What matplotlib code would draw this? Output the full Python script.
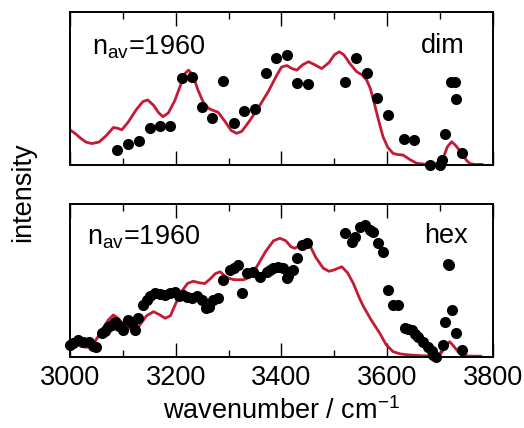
import matplotlib
matplotlib.use('Agg')
import matplotlib.pyplot as plt
from matplotlib.ticker import MultipleLocator

plt.rcParams['font.family'] = ['Liberation Sans', 'DejaVu Sans']
plt.rcParams['mathtext.fontset'] = 'custom'
plt.rcParams['mathtext.rm'] = 'Liberation Sans'
plt.rcParams['mathtext.it'] = 'Liberation Sans:italic'

# dimer: measured points and simulated spectrum
dim_pts_x = [3088, 3110, 3130, 3151, 3170, 3190, 3211, 3230, 3249, 3268,
             3290, 3310, 3330, 3350, 3370, 3390, 3410, 3430, 3450, 3520,
             3540, 3561, 3581, 3601, 3632, 3650, 3681, 3700, 3703, 3709,
             3720, 3728, 3731, 3741]
dim_pts_y = [0.10, 0.14, 0.16, 0.24, 0.255, 0.257, 0.567, 0.577, 0.377, 0.31,
             0.55, 0.277, 0.355, 0.364, 0.60, 0.70, 0.72, 0.534, 0.53, 0.545,
             0.70, 0.60, 0.436, 0.327, 0.17, 0.163, 0.0, 0.0, 0.03, 0.20,
             0.545, 0.545, 0.43, 0.076]

dim_sim_x = [3000, 3010, 3020, 3030, 3041, 3055, 3068, 3082, 3090, 3098,
             3110, 3125, 3138, 3147, 3158, 3168, 3176, 3186, 3198, 3210,
             3218, 3224, 3232, 3242, 3252, 3262, 3272, 3280, 3292, 3305,
             3315, 3325, 3340, 3359, 3375, 3390, 3400, 3410, 3420, 3429,
             3440, 3451, 3463, 3476, 3490, 3500, 3509, 3518, 3530, 3542,
             3552, 3561, 3568, 3574, 3583, 3592, 3601, 3611, 3620, 3630,
             3643, 3656, 3675, 3693, 3705, 3714, 3722, 3730, 3741, 3750,
             3756, 3765, 3780]
dim_sim_y = [0.23, 0.205, 0.175, 0.15, 0.14, 0.15, 0.19, 0.245, 0.24, 0.23,
             0.28, 0.36, 0.415, 0.425, 0.39, 0.34, 0.316, 0.34, 0.42, 0.53,
             0.60, 0.62, 0.59, 0.49, 0.41, 0.37, 0.355, 0.345, 0.29, 0.225,
             0.207, 0.22, 0.29, 0.39, 0.48, 0.58, 0.64, 0.65, 0.63, 0.62,
             0.655, 0.675, 0.655, 0.63, 0.67, 0.72, 0.74, 0.72, 0.66, 0.61,
             0.59, 0.556, 0.50, 0.425, 0.30, 0.185, 0.115, 0.076, 0.068, 0.065,
             0.035, 0.011, 0.004, 0.006, 0.04, 0.12, 0.152, 0.125, 0.076, 0.03,
             0.01, 0.004, 0.004]

# hexamer
hex_pts_x = [3000, 3005, 3016, 3025, 3035, 3044, 3050, 3060, 3066, 3072,
             3080, 3085, 3092, 3101, 3110, 3118, 3123, 3129, 3139, 3145,
             3152, 3161, 3170, 3180, 3190, 3199, 3207, 3214, 3222, 3230,
             3240, 3249, 3258, 3262, 3271, 3280, 3290, 3302, 3310, 3318,
             3325, 3334, 3347, 3359, 3372, 3378, 3384, 3394, 3403, 3410,
             3413, 3422, 3429, 3438, 3448, 3520, 3533, 3539, 3548, 3558,
             3567, 3573, 3583, 3592, 3602, 3611, 3621, 3633, 3640, 3646,
             3652, 3659, 3668, 3678, 3685, 3687, 3693, 3706, 3709, 3715,
             3717, 3722, 3731, 3741]
hex_pts_y = [0.08, 0.09, 0.11, 0.10, 0.10, 0.07, 0.063, 0.155, 0.17, 0.198,
             0.21, 0.23, 0.20, 0.176, 0.24, 0.22, 0.176, 0.253, 0.34, 0.37,
             0.40, 0.416, 0.41, 0.405, 0.42, 0.427, 0.40, 0.405, 0.39, 0.383,
             0.40, 0.372, 0.318, 0.33, 0.372, 0.383, 0.503, 0.57, 0.58, 0.60,
             0.416, 0.547, 0.557, 0.525, 0.557, 0.57, 0.58, 0.59, 0.58, 0.514,
             0.53, 0.57, 0.645, 0.73, 0.743, 0.81, 0.754, 0.786, 0.85, 0.863,
             0.83, 0.82, 0.743, 0.688, 0.438, 0.34, 0.34, 0.187, 0.18, 0.176,
             0.15, 0.133, 0.10, 0.067, 0.04, 0.013, 0.0, 0.078, 0.23, 0.61,
             0.60, 0.307, 0.155, 0.046]

hex_sim_x = [3000, 3010, 3020, 3032, 3045, 3060, 3072, 3082, 3092, 3105,
             3118, 3130, 3145, 3158, 3170, 3180, 3190, 3200, 3211, 3222,
             3233, 3245, 3255, 3265, 3275, 3284, 3296, 3310, 3328, 3340,
             3355, 3370, 3385, 3397, 3408, 3418, 3425, 3435, 3444, 3455,
             3465, 3479, 3490, 3500, 3514, 3525, 3536, 3548, 3555, 3570,
             3586, 3598, 3611, 3625, 3643, 3665, 3693, 3703, 3712, 3718,
             3726, 3734, 3741, 3755, 3778]
hex_sim_y = [0.10, 0.09, 0.07, 0.063, 0.09, 0.17, 0.24, 0.275, 0.25, 0.20,
             0.178, 0.20, 0.27, 0.296, 0.275, 0.253, 0.27, 0.35, 0.427, 0.48,
             0.495, 0.485, 0.48, 0.51, 0.545, 0.557, 0.52, 0.505, 0.505, 0.52,
             0.60, 0.69, 0.76, 0.776, 0.76, 0.72, 0.71, 0.73, 0.743, 0.72,
             0.65, 0.58, 0.56, 0.57, 0.59, 0.55, 0.48, 0.38, 0.33, 0.24,
             0.155, 0.08, 0.035, 0.02, 0.013, 0.008, 0.006, 0.03, 0.08, 0.10,
             0.07, 0.035, 0.013, 0.006, 0.005]

panels = [
    (dim_pts_x, dim_pts_y, dim_sim_x, dim_sim_y, "dim"),
    (hex_pts_x, hex_pts_y, hex_sim_x, hex_sim_y, "hex"),
]
nav_label = r"n$_{\mathrm{av}}$=1960"

red = "#c41a35"
fs = 19.5

fig = plt.figure(figsize=(5.24, 4.28), dpi=100)
ax_top = fig.add_axes([0.1336, 0.6145, 0.8072, 0.3575])
ax_bot = fig.add_axes([0.1336, 0.1659, 0.8072, 0.3575])

for ax, (px, py, sx, sy, tag) in zip([ax_top, ax_bot], panels):
    ax.plot(sx, sy, color=red, lw=2.0, zorder=2,
            solid_joinstyle='round', solid_capstyle='round')
    ax.plot(px, py, 'o', color='black', ms=8.0, mec='none',
            zorder=3, clip_on=False)
    ax.set_xlim(3000, 3800)
    ax.set_ylim(0, 1)
    ax.set_yticks([])
    ax.xaxis.set_major_locator(MultipleLocator(200))
    ax.xaxis.set_minor_locator(MultipleLocator(100))
    ax.tick_params(axis='x', which='both', direction='in', top=True,
                   labelsize=fs, width=1.0, pad=6)
    ax.tick_params(axis='x', which='major', length=10)
    ax.tick_params(axis='x', which='minor', length=5)
    for sp in ax.spines.values():
        sp.set_linewidth(1.4)

ax_top.tick_params(axis='x', labelbottom=False)

ax_top.text(0.051, 0.719, nav_label, transform=ax_top.transAxes,
            fontsize=fs, ha='left', va='baseline')
ax_bot.text(0.039, 0.732, nav_label, transform=ax_bot.transAxes,
            fontsize=fs, ha='left', va='baseline')
ax_top.text(0.934, 0.732, "dim", transform=ax_top.transAxes,
            fontsize=fs, ha='right', va='baseline')
ax_bot.text(0.941, 0.745, "hex", transform=ax_bot.transAxes,
            fontsize=fs, ha='right', va='baseline')

ax_bot.set_xlabel(r"wavenumber / cm$^{-1}$", fontsize=fs, labelpad=4)
fig.text(0.045, 0.551, "intensity", rotation=90, fontsize=fs,
         ha='center', va='center')

fig.savefig("out.png", dpi=100)
